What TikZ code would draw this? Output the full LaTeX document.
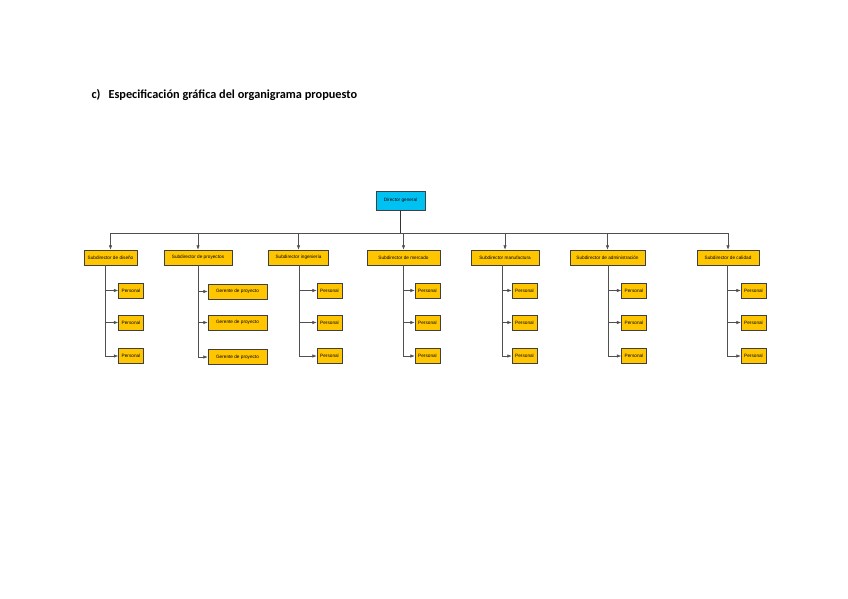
\documentclass[tikz,border=0pt]{standalone}
\usepackage{fontspec}
\newfontfamily\boxfont{Liberation Sans}
\newfontfamily\headfont{Carlito}
\usepackage{xcolor}
\usetikzlibrary{positioning,arrows.meta}
\definecolor{orgold}{RGB}{255,198,0}
\definecolor{orcyan}{RGB}{0,194,242}
\definecolor{orline}{RGB}{80,80,80}

\begin{document}
\begin{tikzpicture}[x=1pt, y=-1pt, >={Latex[length=4.5pt,width=3.5pt]},
  box/.style={draw=black!75, line width=0.5pt, minimum height=15pt, inner sep=1pt,
    font=\boxfont\fontsize{4.7}{5.5}\selectfont},
  dirbox/.style={box, fill=orcyan, minimum width=49pt, minimum height=19pt},
  subbox/.style={box, fill=orgold},
  perbox/.style={box, fill=orgold, minimum width=25pt},
  gerbox/.style={box, fill=orgold, minimum width=59pt},
  conn/.style={draw=orline, line width=0.6pt}]
\useasboundingbox (0,0) rectangle (848,599);
\node[anchor=west, font=\headfont\bfseries\fontsize{12.3}{14}\selectfont] (title) at (88,95)
  {c)\hspace{8pt}Especificación gráfica del organigrama propuesto};
\node[dirbox] (dir) at (400.5,200.5) {Director general};
% subdirectores
\foreach \i/\sx/\sw/\lbl in {1/110.5/53/Subdirector de diseño, 2/198/68/Subdirector de proyectos,
    3/298.5/60/Subdirector ingeniería, 4/403.5/73/Subdirector de mercado,
    5/505/68/Subdirector manufactura, 6/607.5/75/Subdirector de administración,
    7/728/62/Subdirector de calidad}
  \node[subbox, minimum width=\sw pt] (s\i) at (\sx,257.5) {\lbl};
\coordinate (busL) at (110.5,233);
\coordinate (busR) at (728,233);
\draw[conn, line width=1pt, draw=black!80] (dir.south) -- (dir.south |- busL);
\draw[conn] (busL) -- (busR);
\foreach \i in {1,...,7}
  \draw[conn, ->] (s\i.north |- busL) -- (s\i.north);
% personal
\foreach \i/\vx/\cx in {1/105/131, 3/299/329.5, 4/403/427.5, 5/502/524.5, 6/608/634, 7/727/753.5} {
  \coordinate (v\i) at (\vx,0);
  \foreach \j/\cy in {1/290.5, 2/322.5, 3/356} {
    \node[perbox] (p\i-\j) at (\cx,\cy) {Personal};
    \draw[conn, ->] (s\i.south -| v\i) |- (p\i-\j.west);
  }
}
% gerentes
\coordinate (v2) at (198,0);
\foreach \j/\cy in {1/291.5, 2/322.5, 3/357} {
  \node[gerbox] (g\j) at (237.5,\cy) {Gerente de proyecto};
  \draw[conn, ->] (s2.south -| v2) |- (g\j.west);
}
\end{tikzpicture}
\end{document}
